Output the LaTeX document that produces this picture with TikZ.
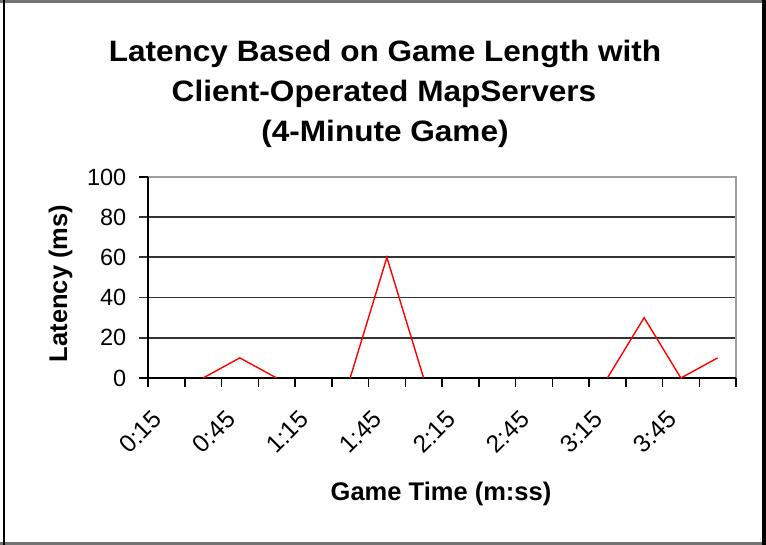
\documentclass[tikz,border=0pt]{standalone}
\usepackage{fontspec}
\setmainfont{Liberation Sans}
\newfontfamily\widesans[FakeStretch=1.07]{Liberation Sans}
\begin{document}
\begin{tikzpicture}[x=1pt,y=-1pt,
  gridline/.style={draw=black!80, line width=1.8pt},
  axisline/.style={draw=black, line width=1.5pt},
  borderline/.style={draw=black!38, line width=1.5pt},
  ticklbl/.style={font=\fontsize{23.5}{26}\selectfont, anchor=east, inner sep=0pt},
  xlbl/.style={font=\fontsize{24.5}{26}\selectfont, anchor=east, rotate=45, inner sep=0pt},
  series/.style={draw=red, line width=1.4pt, line join=miter},
  axistitle/.style={font=\bfseries\fontsize{25.5}{28}\selectfont, inner sep=0pt, anchor=base},
  titleline/.style={font=\widesans\bfseries\fontsize{29.5}{34}\selectfont, inner sep=0pt, anchor=base},
]
\useasboundingbox (0,0) rectangle (766,545);
\fill[white] (0,0) rectangle (766,545);

% outer chart frame
\draw[draw=black!55, line width=3pt] (0,1.5) -- (766,1.5);
\draw[draw=black!55, line width=3pt] (0,543) -- (766,543);
\draw[draw=black, line width=2.5pt] (4,0) -- (4,545);
\draw[draw=black, line width=3.5pt] (764.2,0) -- (764.2,545);

% title
\node[titleline] (t1) at (385,62) {Latency Based on Game Length with};
\node[titleline] (t2) at (384,102) {Client-Operated MapServers};
\node[titleline] (t3) at (385,142) {(4-Minute Game)};

% plot area: x from 148 to 736, y from 177 (100 ms) to 378 (0 ms)
\def\plotL{148}
\def\plotR{736}
\def\plotT{177}
\def\plotB{378}

% horizontal gridlines with their ticks
\foreach \v in {20,40,60,80} {
  \draw[gridline] (139,{378-2.01*\v}) -- (\plotR,{378-2.01*\v});
}
% plot area border (top and right)
\draw[borderline] (\plotL,\plotT) -- (\plotR,\plotT) -- (\plotR,\plotB);
\draw[axisline] (139,\plotT) -- (\plotL,\plotT);

% value axis labels
\foreach \v in {0,20,...,100} {
  \node[ticklbl] (ylab\v) at (126.5,{378-2.01*\v}) {\v};
}

% axes
\draw[axisline] (\plotL,\plotT) -- (\plotL,\plotB);
\draw[axisline] (139,\plotB) -- (\plotR,\plotB);
\foreach \k in {0,...,16} {
  \draw[axisline] ({148+36.75*\k},\plotB) -- ({148+36.75*\k},387);
}

% category labels, every second quarter-minute
\foreach \i/\t in {1/0:15,3/0:45,5/1:15,7/1:45,9/2:15,11/2:45,13/3:15,15/3:45} {
  \node[xlbl] (xlab\i) at ({148+36.75*(\i-0.5)-9},415) {\t};
}

% axis titles
\node[axistitle] (xtitle) at (441,500) {Game Time (m:ss)};
\node[axistitle, rotate=90] (ytitle) at (67,283.5) {Latency (ms)};

% latency samples (category index / ms)
\foreach \i/\v in {2/0,3/10,4/0,6/0,7/60,8/0,13/0,14/30,15/0,16/10} {
  \coordinate (p\i) at ({148+36.75*(\i-0.5)},{378-2.01*\v});
}
\draw[series] (p2) -- (p3) -- (p4);
\draw[series] (p6) -- (p7) -- (p8);
\draw[series] (p13) -- (p14) -- (p15) -- (p16);
\end{tikzpicture}
\end{document}
